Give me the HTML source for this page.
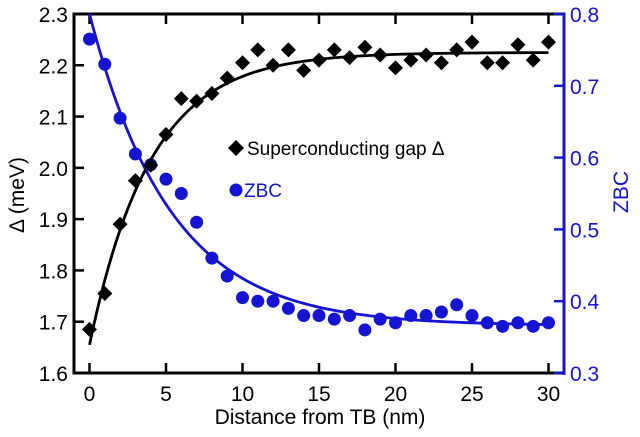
<!DOCTYPE html><html><head><style>body{margin:0;background:#fff}svg{display:block}</style></head><body>
<svg id="s" width="640" height="437" xmlns="http://www.w3.org/2000/svg" font-family="Liberation Sans, sans-serif"></svg>
<script>
const s=document.getElementById('s');let h='';
const X=x=>89.5+x*15.3, YL=v=>373-(v-1.6)*512.9, YR=v=>373-(v-0.3)*718;
const B='#1414d2';
h+=`<rect x="74" y="14" width="490" height="359" fill="none" stroke="#000" stroke-width="3"/>`;
h+=`<line x1="564" y1="13" x2="564" y2="375" stroke="${B}" stroke-width="3"/>`;
for(let i=0;i<=6;i++){let x=X(i*5);h+=`<line x1="${x}" y1="373" x2="${x}" y2="363" stroke="#000" stroke-width="2.5"/><line x1="${x}" y1="14" x2="${x}" y2="24" stroke="#000" stroke-width="2.5"/><text x="${x}" y="401" font-size="21" text-anchor="middle">${i*5}</text>`;}
for(let i=0;i<=7;i++){let v=1.6+i*0.1,y=YL(v);h+=`<line x1="74" y1="${y}" x2="84" y2="${y}" stroke="#000" stroke-width="2.5"/><text x="68" y="${y+8}" font-size="21" text-anchor="end">${v.toFixed(1)}</text>`;}
for(let i=0;i<=5;i++){let v=0.3+i*0.1,y=YR(v);h+=`<line x1="554" y1="${y}" x2="564" y2="${y}" stroke="${B}" stroke-width="2.5"/><text x="570" y="${y+8}" font-size="21" fill="${B}">${v.toFixed(1)}</text>`;}
const D=[1.685,1.755,1.89,1.975,2.005,2.065,2.135,2.13,2.145,2.175,2.205,2.23,2.2,2.23,2.19,2.21,2.23,2.215,2.235,2.22,2.195,2.21,2.22,2.205,2.23,2.245,2.205,2.205,2.24,2.21,2.245];
const Z=[0.765,0.73,0.655,0.605,0.59,0.57,0.55,0.51,0.46,0.435,0.405,0.40,0.40,0.39,0.38,0.38,0.375,0.38,0.36,0.375,0.37,0.38,0.38,0.385,0.395,0.38,0.37,0.365,0.37,0.365,0.37];
let p1='',p2='';for(let x=0;x<=30;x+=0.25){p1+=(x?'L':'M')+X(x)+','+YL(2.225-0.57*Math.exp(-x/4));p2+=(x?'L':'M')+X(x)+','+YR(0.366+0.434*Math.exp(-x/5.3));}
h+=`<path d="${p2}" fill="none" stroke="${B}" stroke-width="2.8"/><path d="${p1}" fill="none" stroke="#000" stroke-width="2.8"/>`;
Z.forEach((v,i)=>h+=`<circle cx="${X(i)}" cy="${YR(v)}" r="6.5" fill="${B}"/>`);
D.forEach((v,i)=>{let x=X(i),y=YL(v);h+=`<path d="M${x-7.5},${y}L${x},${y-7.5}L${x+7.5},${y}L${x},${y+7.5}Z"/>`;});
h+=`<path d="M228,148L236,140L244,148L236,156Z"/><text x="247" y="155" font-size="19">Superconducting gap Δ</text>`;
h+=`<circle cx="236" cy="190" r="6.5" fill="${B}"/><text x="244" y="197" font-size="19" fill="${B}">ZBC</text>`;
h+=`<text x="320" y="424" font-size="21" text-anchor="middle">Distance from TB (nm)</text>`;
h+=`<text transform="translate(24,195) rotate(-90)" font-size="21" text-anchor="middle">Δ (meV)</text>`;
h+=`<text transform="translate(628,192) rotate(-90)" font-size="21" text-anchor="middle" fill="${B}">ZBC</text>`;
s.innerHTML=h;
</script></body></html>
